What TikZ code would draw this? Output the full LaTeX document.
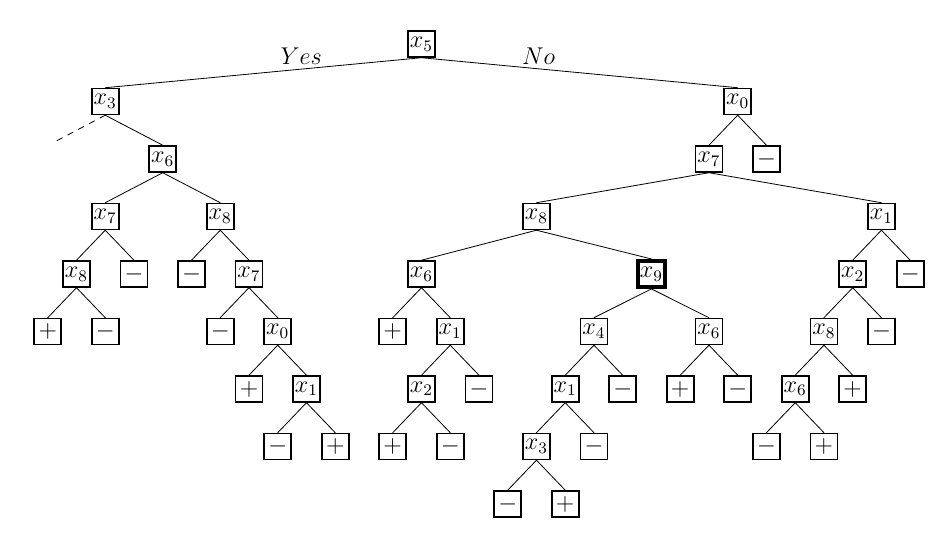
\documentclass[tikz,border=0pt]{standalone}
\usepackage{amsmath, amssymb}
\usepackage{tikz}

\begin{document}
\begin{tikzpicture}
			[x=.5cm,y=.5cm,line cap=round,
			%Styles
			split/.style={draw,line width=.8pt,minimum width=.47cm,minimum height=.45cm,inner sep=0pt,fill=white,font=\large},
			leaf/.style={split},
			chosen/.style={split,line width=2pt},
			branch/.style={thin},
			answer text/.style={font=\large,inner sep=2pt}
			]
			\useasboundingbox (-0.661,1.53) rectangle (32.35,-17.43);
			
			%The tree, left part
			\node[split] (x5) at (14, 0) {$x_5$};
			\node[split] (x3) at (3, -2) {$x_3$};
			\coordinate (cut) at (1.25, -3.4);
			\node[split] (x6a) at (5, -4) {$x_6$};
			\node[split] (x7a) at (3, -6) {$x_7$};
			\node[split] (x8a) at (7, -6) {$x_8$};
			\node[split] (x8c) at (2, -8) {$x_8$};
			\node[leaf] (m2) at (4, -8) {$-$};
			\node[leaf] (m3) at (6, -8) {$-$};
			\node[split] (x7c) at (8, -8) {$x_7$};
			\node[leaf] (p1) at (1, -10) {$+$};
			\node[leaf] (m5) at (3, -10) {$-$};
			\node[leaf] (m6) at (7, -10) {$-$};
			\node[split] (x0b) at (9, -10) {$x_0$};
			\node[leaf] (p3) at (8, -12) {$+$};
			\node[split] (x1a) at (10, -12) {$x_1$};
			\node[leaf] (m11) at (9, -14) {$-$};
			\node[leaf] (p6) at (11, -14) {$+$};
			
			%The tree, right part
			\node[split] (x0) at (25, -2) {$x_0$};
			\node[split] (x7b) at (24, -4) {$x_7$};
			\node[leaf] (m1) at (26, -4) {$-$};
			\node[split] (x8b) at (18, -6) {$x_8$};
			\node[split] (x1b) at (30, -6) {$x_1$};
			\node[split] (x6b) at (14, -8) {$x_6$};
			\node[chosen] (x9) at (22, -8) {$x_9$};
			\node[split] (x2b) at (29, -8) {$x_2$};
			\node[leaf] (m4) at (31, -8) {$-$};
			\node[leaf] (p2) at (13, -10) {$+$};
			\node[split] (x1c) at (15, -10) {$x_1$};
			\node[split] (x4) at (20, -10) {$x_4$};
			\node[split] (x6c) at (24, -10) {$x_6$};
			\node[split] (x8d) at (28, -10) {$x_8$};
			\node[leaf] (m7) at (30, -10) {$-$};
			\node[split] (x2a) at (14, -12) {$x_2$};
			\node[leaf] (m8) at (16, -12) {$-$};
			\node[split] (x1d) at (19, -12) {$x_1$};
			\node[leaf] (m9) at (21, -12) {$-$};
			\node[leaf] (p4) at (23, -12) {$+$};
			\node[leaf] (m10) at (25, -12) {$-$};
			\node[split] (x6d) at (27, -12) {$x_6$};
			\node[leaf] (p5) at (29, -12) {$+$};
			\node[leaf] (p7) at (13, -14) {$+$};
			\node[leaf] (m12) at (15, -14) {$-$};
			\node[split] (x3b) at (18, -14) {$x_3$};
			\node[leaf] (m13) at (20, -14) {$-$};
			\node[leaf] (m14) at (26, -14) {$-$};
			\node[leaf] (p8) at (28, -14) {$+$};
			\node[leaf] (m15) at (17, -16) {$-$};
			\node[leaf] (p9) at (19, -16) {$+$};
			
			\path[branch]
				(x5.south) edge node[pos=.38,above,answer text] {$Yes$} (x3.north)
					edge node[pos=.37,above,answer text] {$No$} (x0.north)
				(x3.south) edge[dashed] (cut)
					edge (x6a.north)
				(x6a.south) edge (x7a.north) edge (x8a.north)
				(x7a.south) edge (x8c.north) edge (m2.north)
				(x8a.south) edge (m3.north) edge (x7c.north)
				(x8c.south) edge (p1.north) edge (m5.north)
				(x7c.south) edge (m6.north) edge (x0b.north)
				(x0b.south) edge (p3.north) edge (x1a.north)
				(x1a.south) edge (m11.north) edge (p6.north)
				(x0.south) edge (x7b.north) edge (m1.north)
				(x7b.south) edge (x8b.north) edge (x1b.north)
				(x8b.south) edge (x6b.north) edge (x9.north)
				(x6b.south) edge (p2.north) edge (x1c.north)
				(x1c.south) edge (x2a.north) edge (m8.north)
				(x2a.south) edge (p7.north) edge (m12.north)
				(x9.south) edge (x4.north) edge (x6c.north)
				(x4.south) edge (x1d.north) edge (m9.north)
				(x1d.south) edge (x3b.north) edge (m13.north)
				(x3b.south) edge (m15.north) edge (p9.north)
				(x6c.south) edge (p4.north) edge (m10.north)
				(x1b.south) edge (x2b.north) edge (m4.north)
				(x2b.south) edge (x8d.north) edge (m7.north)
				(x8d.south) edge (x6d.north) edge (p5.north)
				(x6d.south) edge (m14.north) edge (p8.north);
		\end{tikzpicture}
\end{document}
